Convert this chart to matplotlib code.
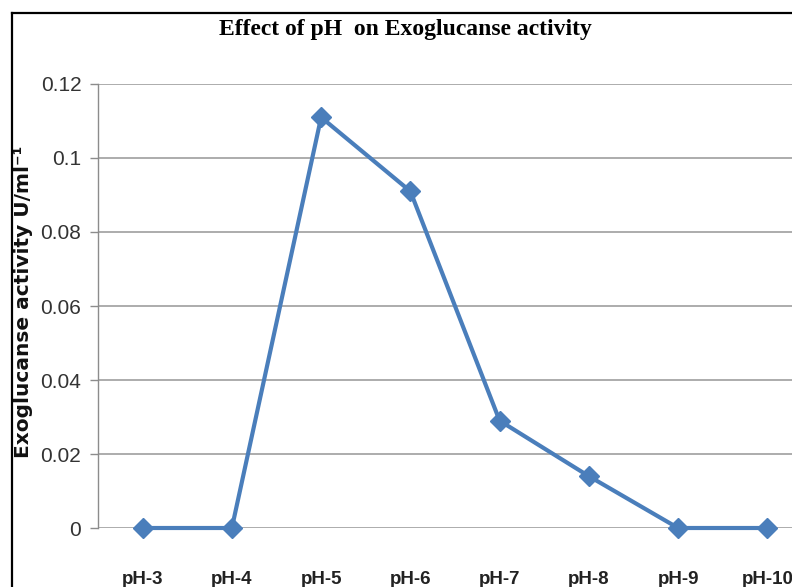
"""Effect of pH on exoglucanse activity (line chart)."""
import matplotlib
matplotlib.use("Agg")
import matplotlib.pyplot as plt
from matplotlib.lines import Line2D

PH_LABELS = ["pH-3", "pH-4", "pH-5", "pH-6", "pH-7", "pH-8", "pH-9", "pH-10"]
ACTIVITY = [0.0, 0.0, 0.111, 0.091, 0.029, 0.014, 0.0, 0.0]
Y_TICKS = [0, 0.02, 0.04, 0.06, 0.08, 0.1, 0.12]
Y_TICK_LABELS = ["0", "0.02", "0.04", "0.06", "0.08", "0.1", "0.12"]

LINE_COLOR = "#4a7ebb"
GRID_COLOR = "#a6a6a6"

W, H = 792, 587
fig = plt.figure(figsize=(W / 100, H / 100), dpi=100)
fig.patch.set_facecolor("white")

# plot area in pixels: left 98, top 84, bottom 528, right runs past the image edge
left, top, bottom, right = 98, 84, 528, 812
ax = fig.add_axes([left / W, 1 - bottom / H, (right - left) / W, (bottom - top) / H])
ax.set_facecolor("white")

x = list(range(len(PH_LABELS)))
ax.plot(x, ACTIVITY, color=LINE_COLOR, linewidth=3.0, marker="D",
        markersize=10.5, markerfacecolor=LINE_COLOR, markeredgecolor=LINE_COLOR,
        clip_on=False, zorder=3)

ax.set_xlim(-0.5, len(PH_LABELS) - 0.5)
ax.set_ylim(0, 0.12)
ax.set_yticks(Y_TICKS)
ax.set_yticklabels(Y_TICK_LABELS, fontfamily="Liberation Sans", fontsize=15,
                   color="#333333")
ax.set_xticks(x)
ax.set_xticklabels(PH_LABELS, fontfamily="Liberation Sans", fontsize=13.5,
                   fontweight="bold", color="#222222")

ax.grid(True, axis="y", color=GRID_COLOR, linewidth=1.3)
ax.set_axisbelow(True)
for side in ("top", "right", "bottom"):
    ax.spines[side].set_visible(False)
ax.spines["left"].set_color("#8c8c8c")
ax.spines["left"].set_linewidth(1.0)
ax.tick_params(axis="y", length=6, width=1.0, color="#8c8c8c", pad=6)
ax.tick_params(axis="x", length=0, pad=31)

ax.set_ylabel("Exoglucanse activity U/ml⁻¹", fontfamily="DejaVu Sans",
              fontweight="bold", fontsize=14.5, color="#111111")
ax.yaxis.set_label_coords((33 - left) / (right - left), (bottom - 302) / (bottom - top))

fig.text(405 / W, 1 - 29 / H, "Effect of pH  on Exoglucanse activity",
         ha="center", va="center", fontfamily="Liberation Serif",
         fontweight="bold", fontsize=17, color="black")

# outer chart frame (left and top edges visible)
fig.add_artist(Line2D([11.5 / W, 11.5 / W], [0, 1 - 12.5 / H],
                      transform=fig.transFigure, color="black", linewidth=1.6))
fig.add_artist(Line2D([11.5 / W, 1], [1 - 12.5 / H, 1 - 12.5 / H],
                      transform=fig.transFigure, color="black", linewidth=1.6))

fig.savefig("out.png", dpi=100, facecolor="white")
